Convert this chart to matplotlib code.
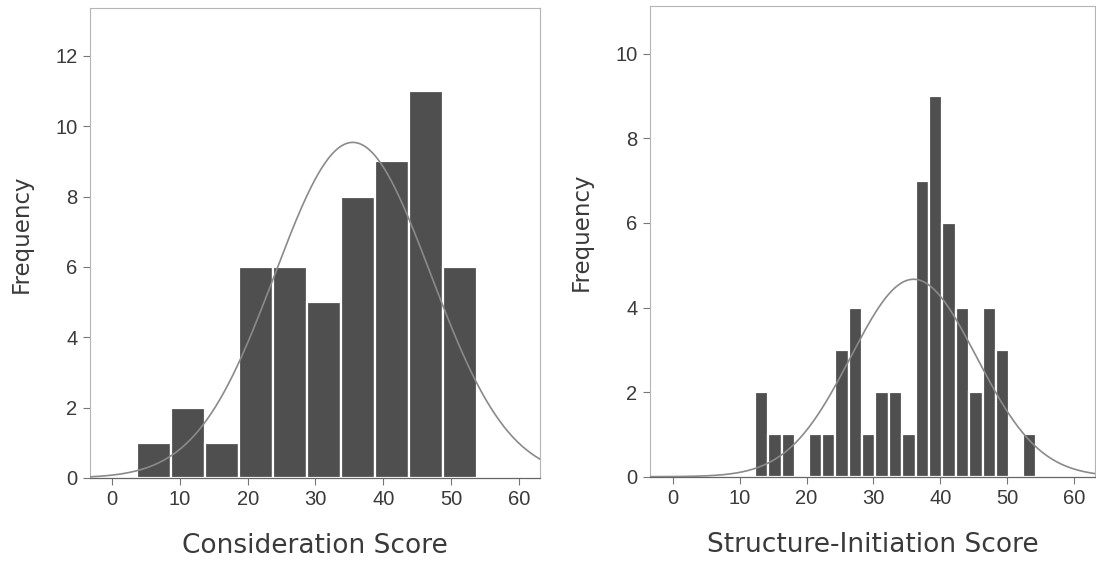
import numpy as np
import matplotlib
matplotlib.use("Agg")
import matplotlib.pyplot as plt

# =========================
# DATA
# =========================

# Consideration score histogram: bin width 5, first edge ~3.75
cons_start = 3.75
cons_width = 5
cons_counts = [1, 2, 1, 6, 6, 5, 8, 9, 11, 6]
cons_mean = 35.5
cons_sd = 11.5

# Structure-initiation histogram: bin width 2, first edge ~12.3
struct_start = 12.3
struct_width = 2
struct_counts = [2, 1, 1, 0, 1, 1, 3, 4, 1, 2, 2, 1, 7, 9, 6, 4, 2, 4, 3, 0, 1]
struct_mean = 36.0
struct_sd = 9.4

x_ticks = [0, 10, 20, 30, 40, 50, 60]
cons_yticks = [0, 2, 4, 6, 8, 10, 12]
struct_yticks = [0, 2, 4, 6, 8, 10]

BAR = "#4f4f4f"
CURVE = "#8a8a8a"
TEXT = "#3a3a3a"

plt.rcParams["font.family"] = "DejaVu Sans"

fig = plt.figure(figsize=(10.96, 5.62), dpi=100)
ax1 = fig.add_axes([0.0821, 0.1495, 0.4106, 0.8363])
ax2 = fig.add_axes([0.5931, 0.1518, 0.4060, 0.8375])


def draw_hist(ax, start, width, counts, mean, sd, xlim, ylim, yticks, xlabel):
    counts = np.array(counts)
    lefts = start + width * np.arange(len(counts))
    ax.bar(lefts, counts, width=width, align="edge", color=BAR,
           edgecolor="white", linewidth=1.6, zorder=2)

    # fitted normal curve, scaled to counts
    n = counts.sum()
    xs = np.linspace(xlim[0], xlim[1], 400)
    ys = n * width / (sd * np.sqrt(2 * np.pi)) * np.exp(-0.5 * ((xs - mean) / sd) ** 2)
    ax.plot(xs, ys, color=CURVE, linewidth=1.2, zorder=3)

    ax.set_xlim(*xlim)
    ax.set_ylim(*ylim)
    ax.set_xticks(x_ticks)
    ax.set_yticks(yticks)
    ax.tick_params(direction="out", length=5, width=0.8, color="#777777",
                   labelsize=14.5, labelcolor=TEXT, pad=4)
    for lab in ax.get_xticklabels() + ax.get_yticklabels():
        lab.set_family("Liberation Sans")

    for side in ["top", "right", "left"]:
        ax.spines[side].set_color("#b5b5b5")
        ax.spines[side].set_linewidth(0.8)
        ax.spines[side].set_linestyle((0, (2, 1)))
    ax.spines["bottom"].set_color("#666666")
    ax.spines["bottom"].set_linewidth(0.9)

    ax.set_xlabel(xlabel, fontsize=19, color=TEXT)
    ax.set_ylabel("Frequency", fontsize=16.5, color=TEXT)
    ax.xaxis.set_label_coords(0.5, -0.118)
    ax.yaxis.set_label_coords(-0.128, 0.52)


draw_hist(ax1, cons_start, cons_width, cons_counts, cons_mean, cons_sd,
          (-3.25, 63.1), (0, 13.36), cons_yticks, "Consideration Score")
draw_hist(ax2, struct_start, struct_width, struct_counts, struct_mean, struct_sd,
          (-3.38, 63.1), (0, 11.13), struct_yticks, "Structure-Initiation Score")

fig.savefig("out.png", dpi=100)
